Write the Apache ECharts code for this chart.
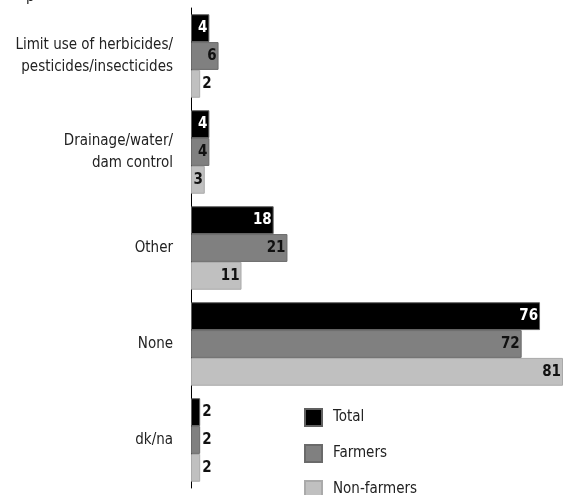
<!DOCTYPE html>
<html><head><meta charset="utf-8">
<script src="https://cdn.jsdelivr.net/npm/echarts@6/dist/echarts.min.js"></script>
<style>html,body{margin:0;padding:0;background:#fff}#c{width:563px;height:495px}</style>
</head><body><div id="c"></div>
<script>
const categories = ["Limit use of herbicides/\npesticides/insecticides", "Drainage/water/\ndam control", "Other", "None", "dk/na"];
const total = [4, 4, 18, 76, 2];
const farmers = [6, 4, 21, 72, 2];
const nonFarmers = [2, 3, 11, 81, 2];
const seriesNames = ["Total", "Farmers", "Non-farmers"];

const FONT = "'Liberation Sans Narrow','DejaVu Sans Condensed','Roboto Condensed',sans-serif";
const colors = ["#000000", "#808080", "#c0c0c0"];
const borders = ["#606060", "#6a6a6a", "#aaaaaa"];
const labelColors = ["#ffffff", "#111111", "#111111"];

function mk(vals, i) {
  return {
    name: seriesNames[i], type: 'bar', barGap: '0%', barCategoryGap: '13%',
    itemStyle: { color: colors[i], borderColor: borders[i], borderWidth: 1 },
    data: vals.map(v => ({
      value: v,
      label: v <= 2
        ? { show: true, position: 'right', distance: 2, color: '#111' }
        : { show: true, position: 'insideRight', distance: 2, color: labelColors[i] }
    })),
    label: { fontFamily: FONT, fontWeight: 'bold', fontSize: 15 }
  };
}

const chart = echarts.init(document.getElementById('c'));
chart.setOption({
  animation: false,
  textStyle: { fontFamily: FONT },
  title: { text: 'p', left: 21, top: -15, textStyle: { fontFamily: FONT, fontSize: 15, fontWeight: 'normal', color: '#222' } },
  grid: { left: 191, right: 0, top: 8, bottom: 7, containLabel: false },
  xAxis: { type: 'value', min: 0, max: 81, show: false },
  yAxis: {
    type: 'category', inverse: true, data: categories,
    axisLine: { show: true, lineStyle: { color: '#000', width: 1 } },
    axisTick: { show: false },
    axisLabel: { margin: 18, fontFamily: FONT, fontSize: 15, color: '#222', lineHeight: 22, align: 'right',
      padding: [9, 0, 0, 0], backgroundColor: 'rgba(255,255,255,0)' }
  },
  legend: {
    orient: 'vertical', left: 304, top: 408, height: 120, padding: 0, itemGap: 17, itemWidth: 17, itemHeight: 17,
    icon: 'rect', data: seriesNames,
    textStyle: { fontFamily: FONT, fontSize: 15, color: '#222', padding: [0, 0, 0, 6] }
  },
  series: [mk(total, 0), mk(farmers, 1), mk(nonFarmers, 2)]
});
</script></body></html>
